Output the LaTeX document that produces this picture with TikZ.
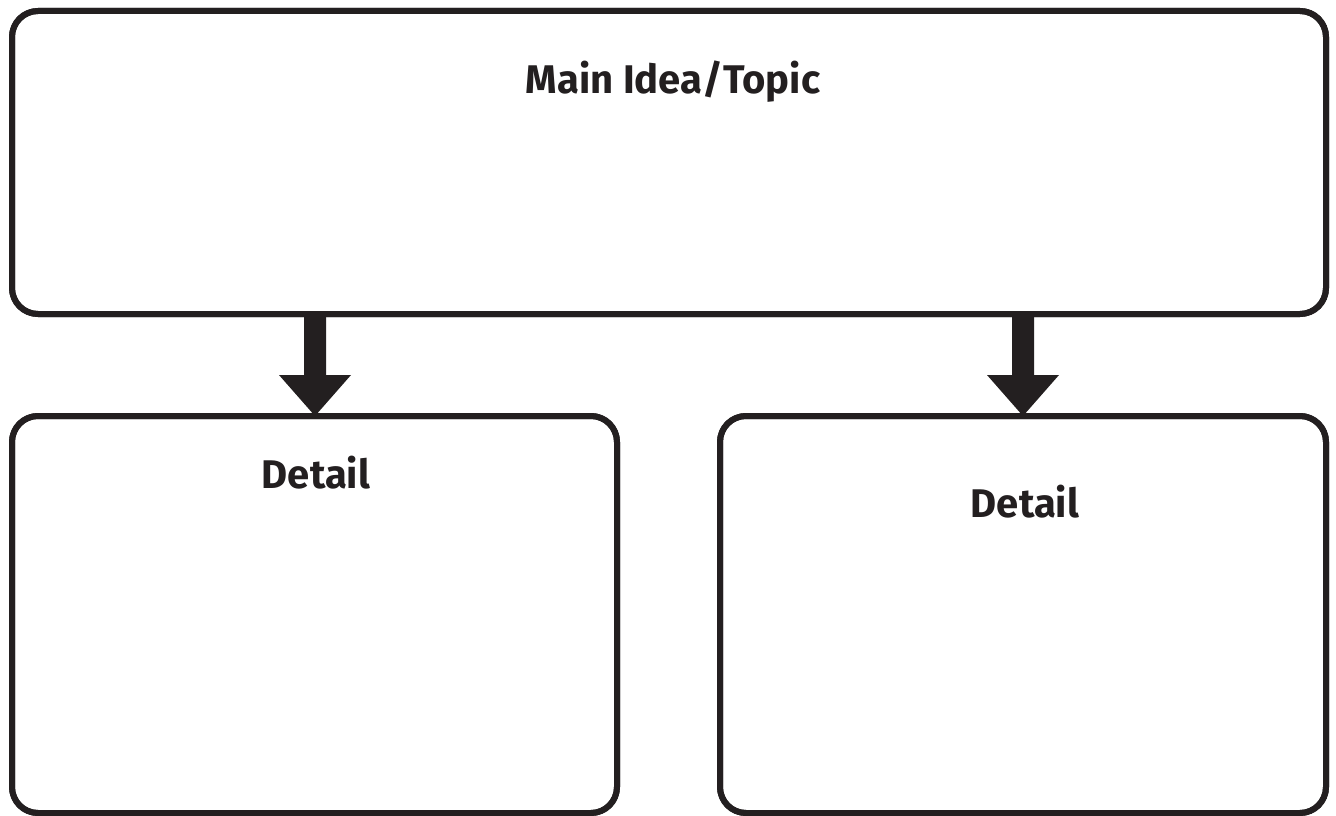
\documentclass[tikz,border=0pt]{standalone}
\usepackage{fontspec}
\setmainfont{Fira Sans}
\usetikzlibrary{calc}
\definecolor{ink}{HTML}{231F20}
\tikzset{
  box/.style={draw=ink, line width=6pt, rounded corners=26pt, fill=white,
    rectangle, inner sep=0pt, outer sep=0pt},
  label/.style={text=ink, font=\fontsize{40}{48}\selectfont\bfseries,
    anchor=base, inner sep=0pt},
  arrowfill/.style={fill=ink}
}
% thick block arrow from a start point down to a tip point
\newcommand\blockarrow[2]{%
  \fill[arrowfill] ($(#1)+(-11,0)$) -- ($(#2)+(-11,-41)$) -- ($(#2)+(-36,-41)$)
    -- (#2) -- ($(#2)+(36,-41)$) -- ($(#2)+(11,-41)$) -- ($(#1)+(11,0)$) -- cycle;}
\begin{document}
\begin{tikzpicture}[x=1pt,y=-1pt]
  \useasboundingbox (0,0) rectangle (1336,816);
  % boxes
  \node[box, minimum width=1314pt, minimum height=303pt] (main) at (669,162.5) {};
  \node[box, minimum width=605pt, minimum height=397pt] (left) at (314.5,614.5) {};
  \node[box, minimum width=606pt, minimum height=397pt] (right) at (1023,614.5) {};
  % connectors
  \coordinate (s1) at (main.south -| 315,0);
  \coordinate (e1) at (left.north -| s1);
  \coordinate (s2) at (main.south -| 1023,0);
  \coordinate (e2) at (right.north -| s2);
  \blockarrow{s1}{e1}
  \blockarrow{s2}{e2}
  % redraw box outlines over the arrow ends
  \draw[draw=ink, line width=6pt, rounded corners=26pt] (main.north west) rectangle (main.south east);
  \draw[draw=ink, line width=6pt, rounded corners=26pt] (left.north west) rectangle (left.south east);
  \draw[draw=ink, line width=6pt, rounded corners=26pt] (right.north west) rectangle (right.south east);
  % texts
  \node[label] (maintext) at (673,93) {Main Idea/Topic};
  \node[label] (lefttext) at (316,488) {Detail};
  \node[label] (righttext) at (1025,517) {Detail};
\end{tikzpicture}
\end{document}
